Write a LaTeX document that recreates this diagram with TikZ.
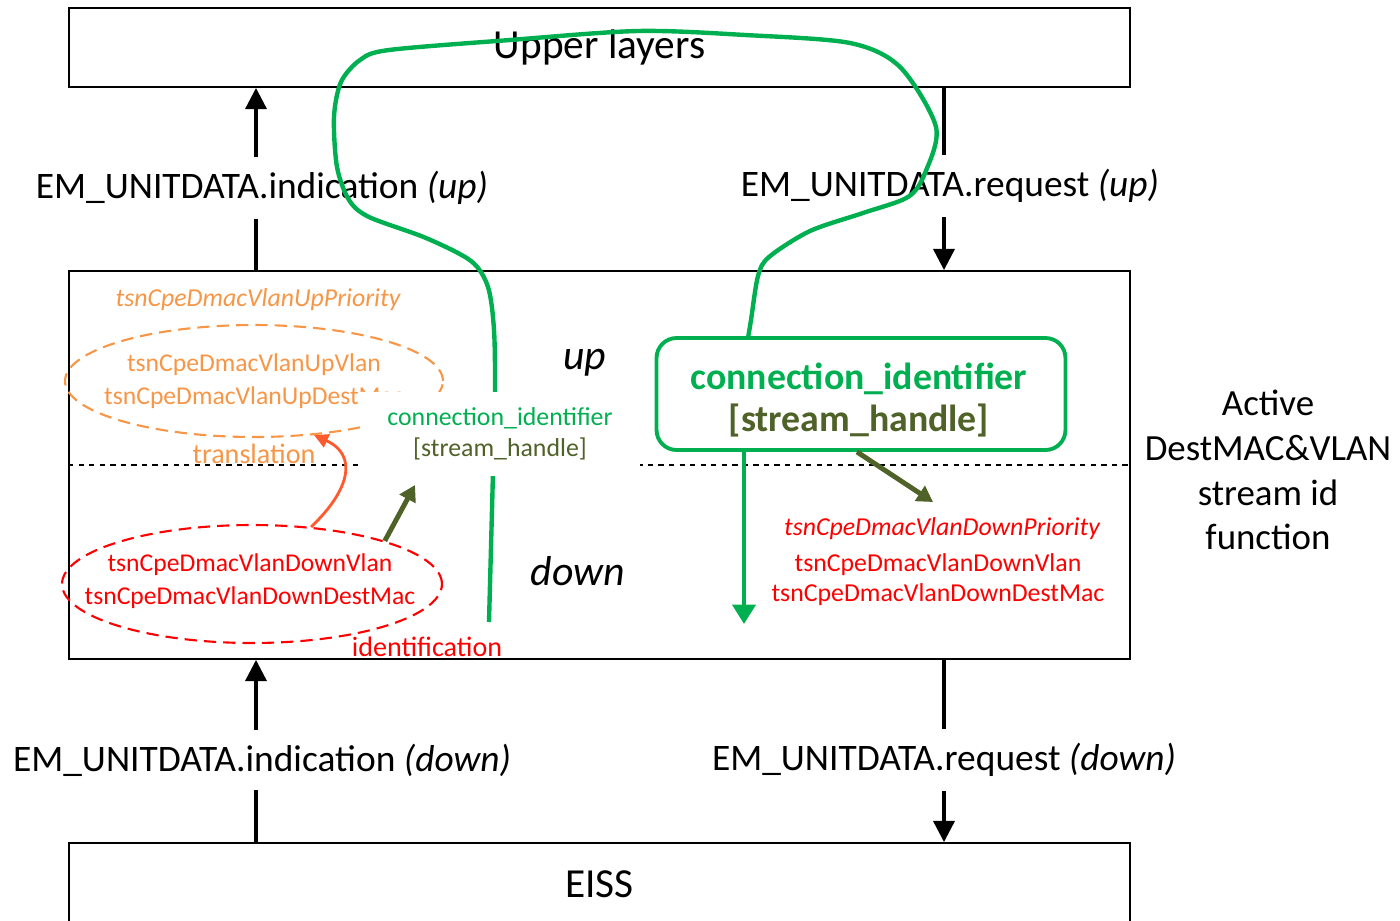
\documentclass[tikz,border=0pt]{standalone}
\usepackage{fontspec}
\setmainfont{Carlito}
\usetikzlibrary{arrows.meta,shapes.geometric}
\definecolor{tsnorange}{HTML}{F79646}
\definecolor{tsnred}{HTML}{FF0000}
\definecolor{tsngreen}{HTML}{00B050}
\definecolor{tsnolive}{HTML}{4F6228}
\definecolor{tsntrans}{HTML}{FF5A2D}
\begin{document}
\begin{tikzpicture}[x=0.02cm, y=-0.02cm,
  layer/.style={draw, line width=1.1pt, minimum width=21.22cm, inner sep=0pt,
    font=\fontsize{23.5}{27}\selectfont},
  sig/.style={line width=1.8pt, -{Triangle[width=12pt,length=12pt]}},
  siglabel/.style={fill=white, inner xsep=2pt, inner ysep=8pt,
    font=\fontsize{21.3}{25}\selectfont},
  param/.style={font=\fontsize{14.6}{18.5}\selectfont, align=center, inner sep=0pt},
  dir/.style={font=\fontsize{23.8}{27}\selectfont\itshape},
  oval/.style={ellipse, draw, dashed, line width=1.2pt, dash pattern=on 7pt off 4pt, inner sep=0pt},
  fat/.style={line width=2.8pt, tsnolive, -{Triangle[width=10pt,length=9pt]}}]
\useasboundingbox (0,0) rectangle (1400,920);
% layers
\node[layer, minimum height=1.58cm] (upper) at (599.5,47.5) {Upper layers};
\node[layer, minimum height=7.76cm] (mid) at (599.5,465) {};
\node[layer, minimum height=1.64cm] (eiss) at (599.5,884) {EISS};
\draw[dashed, line width=0.8pt] (mid.west) -- (mid.east);
% service primitives
\coordinate (aL) at (256,0);
\coordinate (aR) at (944,0);
\draw[sig] (aL |- mid.north) -- (aL |- upper.south);
\draw[sig] (aR |- upper.south) -- (aR |- mid.north);
\draw[sig] (aL |- eiss.north) -- (aL |- mid.south);
\draw[sig] (aR |- mid.south) -- (aR |- eiss.north);
\node[siglabel] (indup) at (262,188) {EM\_UNITDATA.indication \textit{(up)}};
\node[siglabel] (requp) at (950,186) {EM\_UNITDATA.request \textit{(up)}};
\node[siglabel] (inddown) at (262,760) {EM\_UNITDATA.indication \textit{(down)}};
\node[siglabel] (reqdown) at (944,760) {EM\_UNITDATA.request \textit{(down)}};
\node[font=\fontsize{21}{25.5}\selectfont, align=center] (func) at (1268,470)
  {Active\\DestMAC\&VLAN\\stream id\\function};
\node[dir] (up) at (585,363) {up};
\node[dir] (down) at (578,571) {down};
% up side
\node[param, tsnorange, font=\fontsize{14.7}{16}\selectfont\itshape] (uppri) at (258,300) {tsnCpeDmacVlanUpPriority};
\node[oval, tsnorange, minimum width=7.56cm, minimum height=2.24cm] (upell) at (254,381) {};
\node[param, tsnorange] (upvars) at (upell) {tsnCpeDmacVlanUpVlan\\tsnCpeDmacVlanUpDestMac};
\node[param, tsnorange, font=\fontsize{16}{18}\selectfont] (transl) at (254,454) {translation};
% down side
\node[oval, tsnred, minimum width=7.6cm, minimum height=2.36cm] (downell) at (252,584) {};
\node[param, tsnred] (downvars) at (250,581) {tsnCpeDmacVlanDownVlan\\tsnCpeDmacVlanDownDestMac};
\node[param, tsnred, font=\fontsize{16}{18}\selectfont] (ident) at (427,647) {identification};
\draw[tsntrans, line width=1.6pt, -{Triangle[width=8pt,length=8pt]}]
  (downell.44) .. controls (350,490) and (358,455) .. (upell.-42);
% green loop through the upper layers
\coordinate (gstart) at (489,622);
\coordinate (gend) at (748,338);
\draw[tsngreen, line width=2.5pt] plot[smooth, tension=0.5] coordinates {(gstart) (493,472) (495,392) (494,330)
  (488,287) (471,261) (426,238) (369,217) (349,200) (337,167) (334,117) (341,82) (360,60) (389,50) (510,40)
  (638,31) (745,35) (850,43) (900,67) (936,127) (925,173) (908,197) (863,213) (810,231) (769,257) (758,276)
  (751,320) (gend)};
\node[fill=white, minimum width=5.6cm, minimum height=1.68cm, inner sep=0pt, align=center,
  font=\fontsize{14.7}{17.6}\selectfont] (cid) at (500,434)
  {\textcolor{tsngreen}{connection\_identifier}\\\textcolor{tsnolive}{[stream\_handle]}};
\node[draw=tsngreen, line width=2.2pt, rounded corners=0.4cm, minimum width=8.18cm, minimum height=2.24cm,
  inner sep=0pt] (cidbox) at (861,394) {};
\node[align=center, inner sep=0pt, font=\fontsize{21.5}{24.4}\selectfont\bfseries] (cidtext) at (859,400)
  {\textcolor{tsngreen}{connection\_identifier}\\\textcolor{tsnolive}{[stream\_handle]}};
\coordinate (gdown) at (744,624);
\draw[tsngreen, line width=2.4pt, -{Triangle[width=13pt,length=11pt]}] (gdown |- cidbox.south) -- (gdown);
% stream handle arrows
\coordinate (hL) at (415,485);
\coordinate (hR) at (933,502);
\draw[fat] (downell.18) -- (hL);
\draw[fat] ([xshift=-0.08cm]cidbox.south) -- (hR);
\node[param, tsnred, font=\fontsize{14.7}{16}\selectfont\itshape] (downpri) at (942,529) {tsnCpeDmacVlanDownPriority};
\node[param, tsnred, font=\fontsize{14.7}{17}\selectfont] (downvars2) at (938,580) {tsnCpeDmacVlanDownVlan\\tsnCpeDmacVlanDownDestMac};
\end{tikzpicture}
\end{document}
